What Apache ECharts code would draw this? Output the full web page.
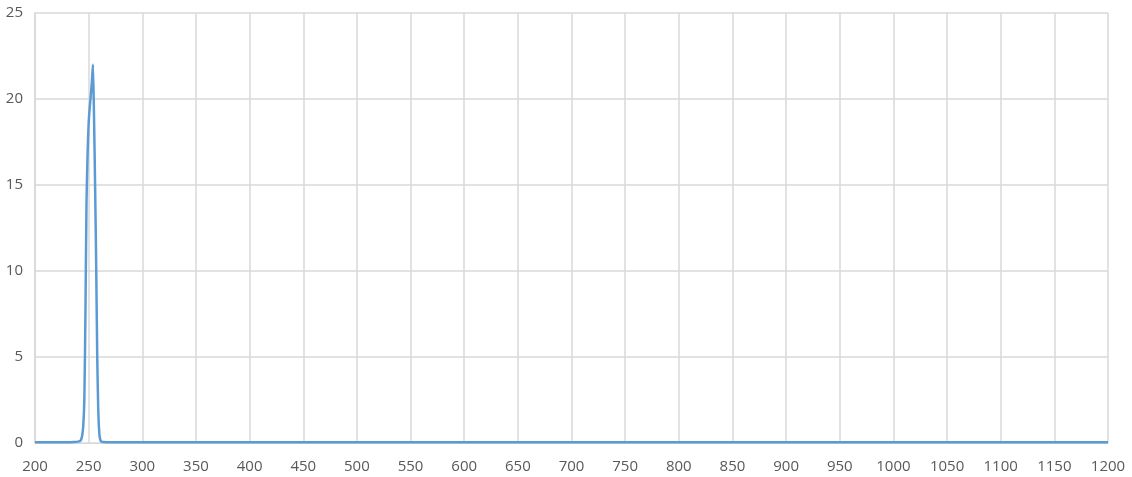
<!DOCTYPE html>
<html>
<head>
<meta charset="utf-8">
<script src="https://cdn.jsdelivr.net/npm/echarts@6/dist/echarts.min.js"></script>
<style>html,body{margin:0;padding:0;background:#fff;}#c{width:1132px;height:477px;}</style>
</head>
<body>
<div id="c"></div>
<script>
var wavelengths = [200,210,220,230,236,240,242,243,244,245,246,247,248,249,250,251,252,253,254,255,256,257,258,259,260,261,262,264,270,280,300,350,400,450,500,550,600,650,700,750,800,850,900,950,1000,1050,1100,1150,1200];
var intensity   = [0.04,0.04,0.05,0.05,0.06,0.08,0.12,0.2,0.45,1.0,2.6,7.5,14.0,16.8,18.6,19.5,20.2,21.0,22.0,19.0,15.0,10.5,5.0,1.8,0.5,0.15,0.08,0.06,0.05,0.05,0.05,0.05,0.05,0.05,0.05,0.05,0.05,0.05,0.05,0.05,0.05,0.05,0.05,0.05,0.05,0.05,0.05,0.05,0.05];
var xTicks = {min:200, max:1200, interval:50};
var yTicks = {min:0, max:25, interval:5};

var data = wavelengths.map(function(w,i){return [w, intensity[i]];});
var chart = echarts.init(document.getElementById('c'));
chart.setOption({
  animation:false,
  grid:{left:35,right:24,top:13,bottom:34,containLabel:false},
  xAxis:{type:'value',min:xTicks.min,max:xTicks.max,interval:xTicks.interval,
    axisLine:{show:true,lineStyle:{color:'#d9d9d9',width:1}},
    axisTick:{show:false},
    axisLabel:{color:'#595959',fontSize:15,fontFamily:'Open Sans, sans-serif',margin:16,showMaxLabel:true,showMinLabel:true,
      formatter:function(v){return String(v);}},
    splitLine:{show:true,lineStyle:{color:'#d9d9d9',width:1.5}}},
  yAxis:{type:'value',min:yTicks.min,max:yTicks.max,interval:yTicks.interval,
    axisLine:{show:true,lineStyle:{color:'#d9d9d9',width:1.5}},
    axisTick:{show:false},
    axisLabel:{color:'#595959',fontSize:15,fontFamily:'Open Sans, sans-serif',margin:12,
      formatter:function(v){return String(v);}},
    splitLine:{show:true,lineStyle:{color:'#d9d9d9',width:1.5}}},
  series:[{type:'line',data:data,showSymbol:false,smooth:0.2,
    lineStyle:{color:'#5b9bd5',width:2.5},itemStyle:{color:'#5b9bd5'}}]
});
</script>
</body>
</html>
